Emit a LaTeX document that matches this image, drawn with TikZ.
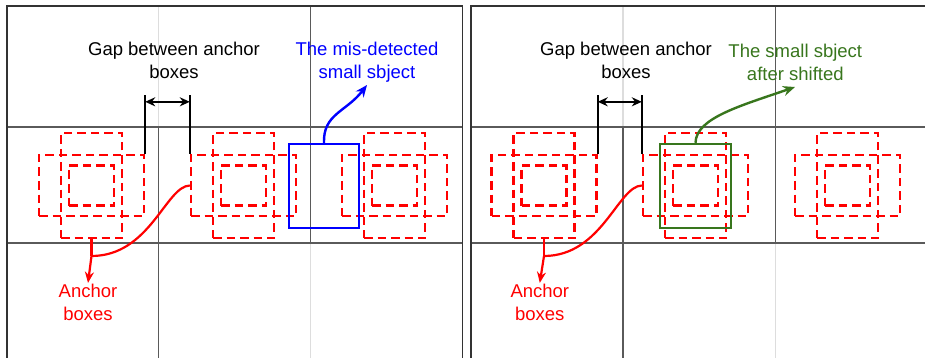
\documentclass[tikz,border=0pt]{standalone}
\usepackage{fontspec}
\setmainfont{Liberation Sans}
\usetikzlibrary{arrows.meta,calc}
\definecolor{dgreen}{HTML}{38761D}
\definecolor{griddark}{HTML}{5A5A5A}
\definecolor{gridlight}{HTML}{DDDDDD}
\definecolor{framec}{HTML}{333333}
\newcommand\anchorcluster[2]{%
  \node[anchorbox, minimum width=61pt, minimum height=105pt] (#1tall) at (#2,185.5) {};
  \node[anchorbox, minimum width=105pt, minimum height=61pt] (#1wide) at (#2,185.5) {};
  \node[anchorbox, minimum width=45pt, minimum height=40pt] (#1small) at (#2,185.5) {};
}
\begin{document}
\begin{tikzpicture}[x=1pt,y=-1pt,
  anchorbox/.style={draw=red, line width=2.4pt, dash pattern=on 8.5pt off 5pt, inner sep=0pt},
  framel/.style={draw=framec, line width=1.8pt},
  gdark/.style={draw=griddark, line width=1.2pt},
  glight/.style={draw=gridlight, line width=1.2pt},
  lbl/.style={font=\fontsize{18.5}{22.5}\selectfont, align=center, inner sep=0pt, anchor=base},
  gapline/.style={draw=black, line width=2.2pt},
  gaparrow/.style={draw=black, line width=1.8pt, {Stealth[length=10pt,width=9pt]}-{Stealth[length=10pt,width=9pt]}},
  redcon/.style={draw=red, line width=2.2pt},
  redarr/.style={draw=red, line width=2.2pt, -{Stealth[length=11pt,width=9pt]}},
  objbox/.style={line width=2.4pt, minimum width=70pt, minimum height=84pt, inner sep=0pt},
  objarr/.style={line width=2.4pt, -{Stealth[length=12pt,width=10pt]}}]
\useasboundingbox (0,0) rectangle (925,358);
\fill[white] (0,0) rectangle (925,358);
% ---------- left panel grid ----------
\draw[glight] (158.3,6) -- (158.3,127);
\draw[gdark] (158.3,127) -- (158.3,358);
\draw[gdark] (310.5,6) -- (310.5,243);
\draw[glight] (310.5,243) -- (310.5,358);
\draw[gdark] (7,127) -- (462.5,127);
\draw[gdark] (7,243) -- (462.5,243);
\draw[framel] (7,360) -- (7,6) -- (462.5,6) -- (462.5,360);
% ---------- right panel grid ----------
\draw[glight] (623,6) -- (623,127);
\draw[gdark] (623,127) -- (623,358);
\draw[gdark] (775.5,6) -- (775.5,243);
\draw[glight] (775.5,243) -- (775.5,358);
\draw[gdark] (471,127) -- (930,127);
\draw[gdark] (471,243) -- (930,243);
\draw[framel] (471,360) -- (471,6) -- (930,6);
% ---------- anchor boxes ----------
\anchorcluster{La}{91.5}
\anchorcluster{Lb}{243.5}
\anchorcluster{Lc}{394.5}
\anchorcluster{Ra}{544}
\anchorcluster{Rb}{695.5}
\anchorcluster{Rc}{847.7}
% ---------- labels (base = last line's baseline) ----------
\node[lbl] (Lgap) at (174,78.5) {Gap between anchor\\boxes};
\node[lbl, text=blue] (Lobj) at (367,78.5) {The mis-detected\\small sbject};
\node[lbl, text=red] (Lanc) at (88,320) {Anchor\\boxes};
\node[lbl] (Rgap) at (626,78.5) {Gap between anchor\\boxes};
\node[lbl, text=dgreen] (Robj) at (795.3,80.5) {The small sbject\\after shifted};
\node[lbl, text=red] (Ranc) at (539.8,320) {Anchor\\boxes};
% ---------- gap markers ----------
\draw[gapline] (Lawide.north east) -- ++(0,-59);
\draw[gapline] (Lbwide.north west) -- ++(0,-59);
\draw[gaparrow] ($(Lawide.north east)+(0,-52)$) -- ($(Lbwide.north west)+(0,-52)$);
\draw[gapline] (Rawide.north east) -- ++(0,-59);
\draw[gapline] (Rbwide.north west) -- ++(0,-59);
\draw[gaparrow] ($(Rawide.north east)+(0,-52)$) -- ($(Rbwide.north west)+(0,-52)$);
% ---------- detected / shifted objects ----------
\node[objbox, draw=blue] (Lbox) at (324,186) {};
\node[objbox, draw=dgreen, minimum width=71pt] (Rbox) at (695.5,186) {};
\coordinate (Ltip) at (367,85);
\coordinate (Rtip) at (795,87);
\draw[objarr, draw=blue] (Lbox.north) .. controls (323,114) and (346,112) .. (Ltip);
\draw[objarr, draw=dgreen] (Rbox.north) .. controls (696,118) and (740,106) .. (Rtip);
% ---------- anchor-box connectors ----------
\coordinate (Ljn) at (91.5,256);
\coordinate (Rjn) at (544,256);
\draw[redcon] (Latall.south) -- (Ljn);
\draw[redcon] (Lbwide.west) .. controls (166,186) and (150,256) .. (Ljn);
\draw[redarr] (Ljn) -- ($(Lanc.north)+(0,-1)$);
\draw[redcon] (Ratall.south) -- (Rjn);
\draw[redcon] (Rbwide.west) .. controls (618,186) and (602,256) .. (Rjn);
\draw[redarr] (Rjn) -- ($(Ranc.north)+(0,-1)$);
\end{tikzpicture}
\end{document}
